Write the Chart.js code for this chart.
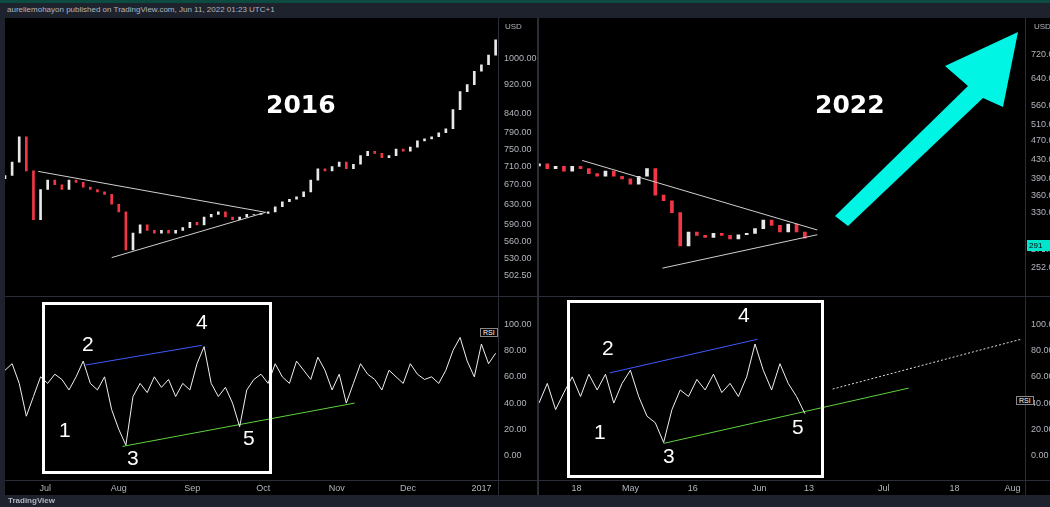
<!DOCTYPE html>
<html>
<head>
<meta charset="utf-8">
<script src="https://cdn.jsdelivr.net/npm/chart.js@4"></script>
<style>
  body { margin:0; width:1050px; height:507px; background:#1e222d; position:relative; overflow:hidden; font-family:"Liberation Sans", Arial, sans-serif; }
  .box { position:absolute; }
  .txt { position:absolute; color:#fff; white-space:nowrap; }
  .ln { position:absolute; background:#2a2e39; }
</style>
</head>
<body>
<div class="box" style="left:0;top:0;width:1050px;height:3px;background:#0d4a40"></div>
<div class="txt" style="left:7px;top:5px;font-size:8px;color:#b2b5be">aureliemohayon published on TradingView.com, Jun 11, 2022 01:23 UTC+1</div>
<div class="box" style="left:5px;top:18px;width:1045px;height:477px;background:#000"></div>

<div class="box" style="left:5px;top:18px;width:532px;height:278px"><canvas id="pl"></canvas></div>
<div class="box" style="left:5px;top:296px;width:532px;height:199px"><canvas id="rl"></canvas></div>
<div class="box" style="left:539px;top:18px;width:511px;height:278px"><canvas id="pr"></canvas></div>
<div class="box" style="left:539px;top:296px;width:511px;height:199px"><canvas id="rr"></canvas></div>

<div class="ln" style="left:537px;top:18px;width:2px;height:477px"></div>
<div class="ln" style="left:5px;top:296px;width:1045px;height:1px"></div>
<div class="ln" style="left:5px;top:480px;width:1045px;height:1px"></div>
<div class="ln" style="left:498px;top:18px;width:1px;height:477px"></div>
<div class="ln" style="left:1025px;top:18px;width:1px;height:477px"></div>

<div class="txt" style="left:505px;top:22px;font-size:8px;color:#b2b5be">USD</div>
<div class="txt" style="left:1034px;top:22px;font-size:8px;color:#b2b5be">USD</div>
<div class="txt" style="left:1027px;top:240px;font-size:8px;background:#00e5cc;color:#000;padding:1px 2px;width:21px">291</div>
<div class="txt" style="left:480px;top:328px;font-size:7px;border:1px solid #888;background:#000;padding:0 2px">RSI</div>
<div class="txt" style="left:1016px;top:396px;font-size:7px;border:1px solid #888;background:#000;padding:0 2px">RSI</div>

<div class="txt" style="left:266px;top:90px;font-size:25px;font-weight:bold;font-family:'DejaVu Sans'">2016</div>
<div class="txt" style="left:815px;top:90px;font-size:25px;font-weight:bold;font-family:'DejaVu Sans'">2022</div>

<div class="box" style="left:42px;top:302px;width:224px;height:166px;border:3px solid #fff"></div>
<div class="box" style="left:567px;top:300px;width:251px;height:172px;border:3px solid #fff"></div>

<div class="txt" style="left:59px;top:418px;font-size:21px">1</div>
<div class="txt" style="left:82px;top:332px;font-size:21px">2</div>
<div class="txt" style="left:127px;top:446px;font-size:21px">3</div>
<div class="txt" style="left:196px;top:310px;font-size:21px">4</div>
<div class="txt" style="left:243px;top:426px;font-size:21px">5</div>
<div class="txt" style="left:594px;top:420px;font-size:21px">1</div>
<div class="txt" style="left:602px;top:336px;font-size:21px">2</div>
<div class="txt" style="left:663px;top:444px;font-size:21px">3</div>
<div class="txt" style="left:738px;top:303px;font-size:21px">4</div>
<div class="txt" style="left:792px;top:415px;font-size:21px">5</div>

<svg class="box" style="left:0;top:0" width="1050" height="507">
  <polygon points="835,216 968,86 945,66 1018,32 1003,107 983,98 848,226" fill="#00f5e4"/>
</svg>
<div class="txt" style="left:8px;top:496px;font-size:8px;color:#b2b5be;font-weight:bold">TradingView</div>

<script>
// 2016 (day 0 = Jun 19 2016), one close every 3 days
const leftStart = -5, leftStep = 3;
const leftClose = [690,720,780,700,600,660,680,670,660,680,
  675,665,660,655,650,630,615,545,575,590,
  580,575,580,575,580,585,595,590,605,610,
  615,605,600,605,610,610,612,615,625,635,
  640,645,655,680,705,700,710,720,705,715,
  735,745,740,730,735,750,745,755,770,775,
  780,790,800,850,900,920,960,980,1010,1060];
const leftRsi = [65,70,55,30,45,60,55,62,58,50,
  60,72,55,50,60,35,20,8,45,55,
  48,60,52,58,45,55,50,70,83,55,
  45,52,40,22,50,58,62,55,70,60,
  55,72,65,58,75,65,50,62,40,55,
  70,62,58,50,65,60,55,70,62,58,
  60,55,65,80,90,72,60,85,70,78];
const leftPriceTicks = [502.5,530,560,590,630,670,710,750,790,840,920,1000];
const leftDateTicks = [12,43,74,104,135,165,196];
const leftDateLabels = ['Jul','Aug','Sep','Oct','Nov','Dec','2017'];

// 2022 (day 0 = Apr 18 2022), one close every 2 days
const rightStart = -9, rightStep = 2;
const rightClose = [420,410,415,405,415,410,400,395,405,395,
  390,380,395,410,360,350,330,280,300,295,
  292,298,295,290,296,298,305,318,310,300,
  312,300,291];
const rightRsi = [40,55,35,48,60,45,62,50,62,40,
  55,65,45,30,25,10,35,50,45,58,
  50,62,48,55,45,60,85,65,50,70,
  55,45,32];
const rightPriceTicks = [252,275,330,360,390,430,470,510,560,640,720];
const rightDateTicks = [0,13,28,44,56,74,91,105];
const rightDateLabels = ['18','May','16','Jun','13','Jul','18','Aug'];
const rsiTicks = [0,20,40,60,80,100];

// trend lines [x0, y0, x1, y1] in data units
const leftUpper = [9,699,105,614], leftLower = [40,532,105,614];
const rightUpper = [1.4,427,58,303], rightLower = [20.7,251,58,296];
const leftBlue = [29,69,78,84], leftGreen = [44.6,7,142.5,40];
const rightBlue = [8,63,43.6,88.6], rightGreen = [21,9.3,80,51.4], rightDotted = [61.7,50.7,107,88.6];

const tickFont = { size: 9, family: 'Liberation Sans' };
const tickColor = '#b2b5be';

function seg(s, color, dash) {
  return { type:'line', data:[{x:s[0],y:s[1]},{x:s[2],y:s[3]}], borderColor:color, borderWidth:1,
    borderDash: dash || [], pointRadius:0, order:0 };
}

function xScale(min, max, ticks, labels, show) {
  return { type:'linear', min, max, display: show, grid:{display:false, drawTicks:false}, border:{display:false},
    afterBuildTicks: s => { s.ticks = ticks.map(v => ({value:v})); },
    afterFit: s => { s.height = 15; },
    ticks:{ color:tickColor, font:tickFont, maxRotation:0, autoSkip:false, padding:3,
      callback: v => labels[ticks.indexOf(v)] } };
}

function yScale(type, min, max, ticks, width, dec) {
  return { type, position:'right', min, max, grid:{display:false, drawTicks:false}, border:{display:false},
    afterBuildTicks: s => { s.ticks = ticks.map(v => ({value:v})); },
    afterFit: s => { s.width = width; },
    ticks:{ color:tickColor, font:tickFont, padding:6, callback: v => v.toFixed(dec) } };
}

function priceChart(id, start, step, closes, xr, yr, pt, axW, thick, lines) {
  const candles = closes.map((c, i) => ({ x: start + i*step, y: [i ? closes[i-1] : c*0.99, c] }));
  new Chart(document.getElementById(id), {
    type:'bar',
    data:{ datasets:[
      { data: candles, barThickness:thick, grouped:false, order:1,
        backgroundColor: candles.map(c => c.y[1] >= c.y[0] ? '#e8e8e8' : '#f23645') },
      ...lines ] },
    options:{ responsive:true, maintainAspectRatio:false, animation:false,
      layout:{padding:0},
      plugins:{ legend:{display:false}, tooltip:{enabled:false} },
      scales:{ x: xScale(xr[0], xr[1], [], [], false), y: yScale('logarithmic', yr[0], yr[1], pt, axW, 2) } }
  });
}

function rsiChart(id, start, step, vals, xr, dt, dl, axW, lines) {
  new Chart(document.getElementById(id), {
    type:'line',
    data:{ datasets:[
      { data: vals.map((v, i) => ({ x: start + i*step, y: v })), borderColor:'#f0f0f0', borderWidth:1, pointRadius:0, tension:0 },
      ...lines ] },
    options:{ responsive:true, maintainAspectRatio:false, animation:false,
      layout:{padding:0},
      plugins:{ legend:{display:false}, tooltip:{enabled:false} },
      scales:{ x: xScale(xr[0], xr[1], dt, dl, true), y: yScale('linear', -18.6, 112.9, rsiTicks, axW, 2) } }
  });
}

priceChart('pl', leftStart, leftStep, leftClose, [-5,203], [494,1096], leftPriceTicks, 39, 2,
  [seg(leftUpper,'#cfcfcf'), seg(leftLower,'#cfcfcf')]);
priceChart('pr', rightStart, rightStep, rightClose, [-9,108], [235.6,815], rightPriceTicks, 25, 3,
  [seg(rightUpper,'#cfcfcf'), seg(rightLower,'#cfcfcf')]);
rsiChart('rl', leftStart, leftStep, leftRsi, [-5,203], leftDateTicks, leftDateLabels, 39,
  [seg(leftBlue,'#3d5afe'), seg(leftGreen,'#5fd33f')]);
rsiChart('rr', rightStart, rightStep, rightRsi, [-9,108], rightDateTicks, rightDateLabels, 25,
  [seg(rightBlue,'#3d5afe'), seg(rightGreen,'#5fd33f'), seg(rightDotted,'#dddddd',[2,2])]);
</script>
</body>
</html>
